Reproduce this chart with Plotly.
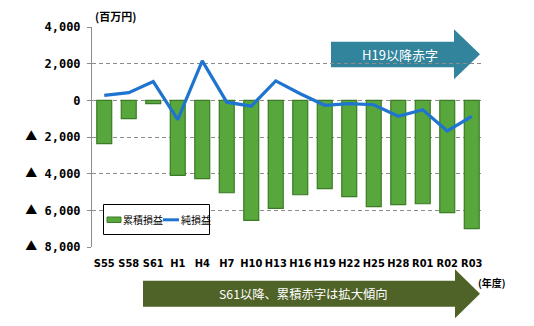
import plotly.graph_objects as go

# 年度
years = ["S55", "S58", "S61", "H1", "H4", "H7", "H10", "H13", "H16",
         "H19", "H22", "H25", "H28", "R01", "R02", "R03"]
# 累積損益（百万円）
cumulative = [-2360, -1000, -180, -4090, -4270, -5040, -6550, -5890, -5150,
              -4820, -5250, -5800, -5690, -5640, -6130, -7000]
# 純損益（百万円）
net = [270, 420, 1020, -1050, 2150, -100, -320, 1060, 360,
       -270, -180, -240, -870, -510, -1670, -870]

y_ticks = [4000, 2000, 0, -2000, -4000, -6000, -8000]
y_ticktext = ["4,000", "2,000", "0", "▲ 2,000", "▲ 4,000", "▲ 6,000", "▲ 8,000"]

BAR_FILL, BAR_EDGE = "#58A73C", "#3B7A26"
LINE_COLOR = "#1F74CF"

W, H = 534, 326
ML, MR, MT, MB = 92, 50, 27, 79
PW, PH = W - ML - MR, H - MT - MB


def px(x):
    return (x - ML) / PW


def py(y):
    return (H - MB - y) / PH


def tick_label(t):
    # the negative marker is set in a CJK face so it comes out full width
    return t.replace("▲", '<span style="font-family:Noto Sans CJK JP">▲</span>')


fig = go.Figure()
fig.add_trace(go.Bar(
    x=years, y=cumulative, name="累積損益", showlegend=False,
    marker=dict(color=BAR_FILL, line=dict(color=BAR_EDGE, width=1.2)),
))
fig.add_trace(go.Scatter(
    x=years, y=net, name="純損益", mode="lines", showlegend=False,
    line=dict(color=LINE_COLOR, width=3.2),
))


# arrow banners
def arrow_path(x0, x1, x2, yb0, yb1, yh0, yh1):
    ym = (yh0 + yh1) / 2
    pts = [(x0, yb0), (x1, yb0), (x1, yh0), (x2, ym), (x1, yh1), (x1, yb1), (x0, yb1)]
    return "M " + " L ".join(f"{px(a):.4f},{py(b):.4f}" for a, b in pts) + " Z"


def rect(x0, y0, x1, y1, **kw):
    return dict(type="rect", xref="paper", yref="paper",
                x0=px(x0), x1=px(x1), y0=py(y0), y1=py(y1), **kw)


shapes = [
    dict(type="path", xref="paper", yref="paper", layer="between",
         path=arrow_path(331, 454, 480, 41.7, 67.3, 29.3, 79.3),
         fillcolor="#31849B", line=dict(width=0)),
    dict(type="path", xref="paper", yref="paper", layer="between",
         path=arrow_path(143, 455, 480, 280.7, 306.7, 269.3, 318.3),
         fillcolor="#4F6228", line=dict(width=0)),
    # compact legend box with its two keys
    rect(103.5, 204.5, 209.5, 234.5, layer="above", fillcolor="white",
         line=dict(color="black", width=1)),
    rect(107, 217, 121, 222.5, layer="above", fillcolor=BAR_FILL,
         line=dict(color=BAR_EDGE, width=1)),
    dict(type="line", xref="paper", yref="paper", layer="above",
         x0=px(163), x1=px(179), y0=py(219.8), y1=py(219.8),
         line=dict(color=LINE_COLOR, width=3)),
]


def label(text, x, y, size, bold=False, color="black", xanchor="center"):
    return dict(text=text, x=px(x), y=py(y), xref="paper", yref="paper",
                xanchor=xanchor, yanchor="middle", showarrow=False,
                font=dict(family="Noto Sans CJK JP", size=size, color=color,
                          weight="bold" if bold else "normal"))


annotations = [
    label("H19以降赤字", 400, 54.5, 13, color="white"),
    label("S61以降、累積赤字は拡大傾向", 303, 294, 12.3, color="white"),
    label("(百万円)", 115.5, 16, 11, bold=True),
    label("(年度)", 492, 282, 10, bold=True),
    label("累積損益", 120.5, 219.5, 10, xanchor="left"),
    label("純損益", 178.5, 219.5, 10, xanchor="left"),
]

fig.update_layout(
    width=W, height=H,
    margin=dict(l=ML, r=MR, t=MT, b=MB, pad=0, autoexpand=False),
    paper_bgcolor="white", plot_bgcolor="white",
    bargap=0.39,
    showlegend=False,
    shapes=shapes, annotations=annotations,
    xaxis=dict(
        type="category", range=[-0.5, len(years) - 0.5], automargin=False,
        showline=False, showgrid=False, zeroline=False, ticks="", tickangle=0,
        tickfont=dict(family="DejaVu Sans Condensed", size=11,
                      color="black", weight="bold"),
        ticklabelstandoff=8,
    ),
    xaxis2=dict(
        type="category", matches="x", overlaying="x", anchor="free",
        position=8000 / 12000,
        showline=True, linecolor="#8C8C8C", linewidth=1,
        ticks="outside", tickson="boundaries", ticklen=4, tickcolor="#8C8C8C",
        showticklabels=False, showgrid=False, zeroline=False,
        layer="above traces",
    ),
    yaxis=dict(
        range=[-8000, 4000], tickvals=y_ticks,
        ticktext=[tick_label(t) for t in y_ticktext], automargin=False,
        showline=True, linecolor="#8C8C8C", linewidth=1,
        ticks="outside", ticklen=4, tickcolor="#8C8C8C",
        showgrid=True, gridcolor="#8C8C8C", gridwidth=1, griddash="4px,3px",
        zeroline=False,
        tickfont=dict(family="DejaVu Sans Mono", size=12, color="black", weight="bold"),
        ticklabelstandoff=4,
    ),
)

fig.write_html("out.html")
